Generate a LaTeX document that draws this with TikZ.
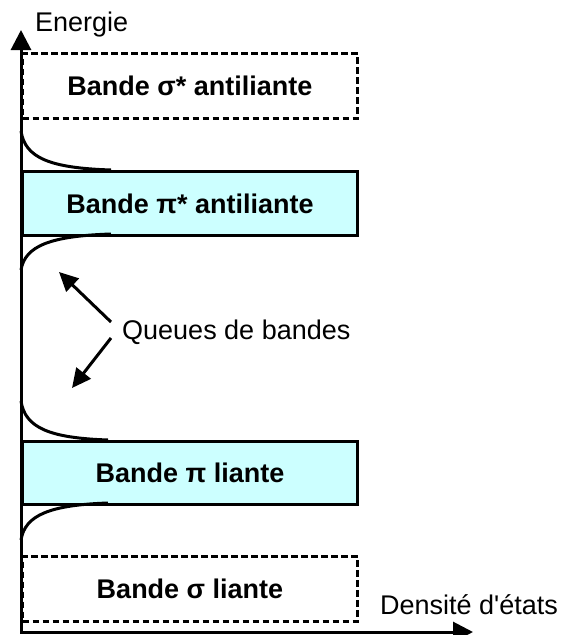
\documentclass[tikz,border=0pt]{standalone}
\usepackage{fontspec}
\setmainfont{Liberation Sans}[Ligatures=TeXOff]
\usetikzlibrary{arrows.meta}
\definecolor{bandcyan}{HTML}{CCFFFF}
\begin{document}
\begin{tikzpicture}[x=1pt,y=-1pt,
 band/.style={draw, line width=3pt, minimum width=335pt, minimum height=64pt, inner sep=0pt, font=\fontsize{27}{30}\selectfont\bfseries, anchor=north west},
 dashband/.style={band, dash pattern=on 6.5pt off 3.5pt},
 fillband/.style={band, fill=bandcyan},
 axis/.style={line width=3pt, -{Triangle[length=20pt,width=20pt]}},
 tail/.style={line width=3pt},
 pointer/.style={line width=3pt, -{Triangle[length=19pt,width=18pt]}},
 lbl/.style={font=\fontsize{27}{30}\selectfont, inner sep=0pt, anchor=west}]
\useasboundingbox (0,0) rectangle (563,635);
% bands
\node[dashband, minimum height=65pt] (sigstar) at (21,52) {Bande σ* antiliante};
\node[fillband] (pistar) at (21,170) {Bande π* antiliante};
\node[fillband, minimum height=63pt] (pi) at (21,440) {Bande π liante};
\node[dashband, minimum height=65pt] (sig) at (21,555) {Bande σ liante};
% axes
\coordinate (O) at (21,632);
\coordinate (ytop) at (21,30);
\coordinate (xend) at (473,632);
\draw[axis, line cap=rect] (O) -- (ytop);
\draw[axis, line cap=rect] (O) -- (xend);
\node[lbl] (energie) at (35,25) {Energie};
\node[lbl] (densite) at (380,605) {Densité d'états};
% tails
\coordinate (t1a) at (21,131); \coordinate (t1b) at (111,170);
\coordinate (t2a) at (111,234); \coordinate (t2b) at (21,270);
\coordinate (t3a) at (21,401); \coordinate (t3b) at (108,440);
\coordinate (t4a) at (108,503); \coordinate (t4b) at (21,540);
\draw[tail] (t1a) .. controls (25,158) and (50,168) .. (t1b);
\draw[tail] (t2a) .. controls (50,236) and (25,246) .. (t2b);
\draw[tail] (t3a) .. controls (25,428) and (50,438) .. (t3b);
\draw[tail] (t4a) .. controls (50,505) and (25,515) .. (t4b);
% pointers
\node[lbl] (queues) at (122,332) {Queues de bandes};
\coordinate (p1s) at (111,322); \coordinate (p1e) at (59,272);
\coordinate (p2s) at (111,338); \coordinate (p2e) at (72,388);
\draw[pointer] (p1s) -- (p1e);
\draw[pointer] (p2s) -- (p2e);
\end{tikzpicture}
\end{document}
